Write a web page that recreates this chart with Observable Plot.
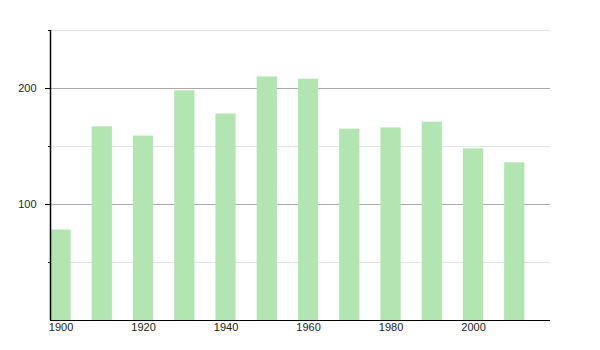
<!DOCTYPE html>
<html>
<head>
<meta charset="utf-8">
<script src="https://cdn.jsdelivr.net/npm/d3@7"></script>
<script src="https://cdn.jsdelivr.net/npm/@observablehq/plot@0.6"></script>
<style>
  html, body { margin: 0; padding: 0; background: #fff; }
  #chart svg { display: block; }
</style>
</head>
<body>
<div id="chart"></div>
<script>
const years = [1900, 1910, 1920, 1930, 1940, 1950, 1960, 1970, 1980, 1990, 2000, 2010];
const values = [78, 167, 159, 198, 178, 210, 208, 165, 166, 171, 148, 136];
const xTicks = [1900, 1920, 1940, 1960, 1980, 2000];
const yMajorTicks = [100, 200];
const yMinorTicks = [50, 150, 250];

const data = years.map((year, i) => ({year, value: values[i]}));
const halfWidth = 2.45;
const xDomain = [1897.45, 2018.65];

const chart = Plot.plot({
  width: 600,
  height: 350,
  marginLeft: 50,
  marginRight: 50,
  marginTop: 30,
  marginBottom: 30,
  style: {fontFamily: "'Liberation Sans', Arial, sans-serif", fontSize: "11px", color: "#222", background: "#fff"},
  x: {domain: xDomain},
  y: {domain: [0, 250]},
  marks: [
    Plot.ruleY(yMinorTicks, {stroke: "#e2e2e2", strokeWidth: 1, strokeOpacity: 1}),
    Plot.ruleY(yMajorTicks, {stroke: "#a9a9a9", strokeWidth: 1, strokeOpacity: 1}),
    Plot.rectY(data, {x1: d => d.year - halfWidth, x2: d => d.year + halfWidth, y: "value", fill: "#b3e5b3"}),
    Plot.axisY(yMajorTicks, {tickSize: 5, tickPadding: 9, label: null, stroke: "#000", strokeOpacity: 1}),
    Plot.axisY(yMinorTicks, {tickSize: 2, tickFormat: () => "", label: null, stroke: "#000", strokeOpacity: 1}),
    Plot.axisX(xTicks, {tickSize: 0, tickPadding: 3, tickFormat: d => String(d), label: null}),
    Plot.ruleY([0], {stroke: "#000", strokeWidth: 1.2}),
    Plot.ruleX([xDomain[0]], {stroke: "#000", strokeWidth: 1.5})
  ]
});
document.getElementById("chart").appendChild(chart);
</script>
</body>
</html>
